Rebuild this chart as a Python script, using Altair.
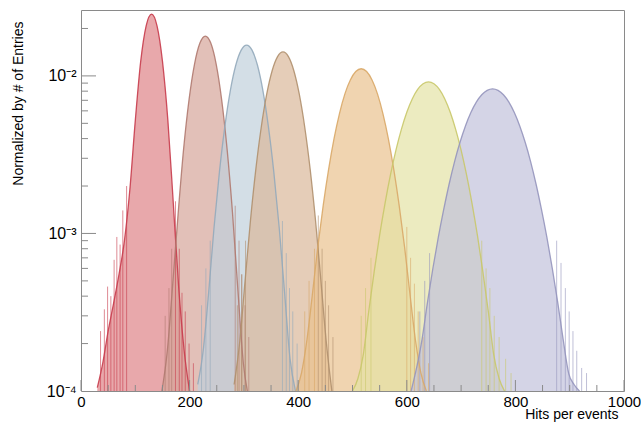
import altair as alt
import pandas as pd

STEP = 10
names = ["s1", "s2", "s3", "s4", "s5", "s6", "s7"]
starts = [30, 149, 215, 282, 396, 500, 608]

red = [1.05e-4, 1.5e-4, 2.4e-4, 3.6e-4, 5.5e-4, 9e-4, 0.0019, 0.0052, 0.0124, 0.0208,
       0.0247, 0.0208, 0.0124, 0.0052, 0.00155, 0.00045, 0.00018, 0.0001]
brown = [1.0e-4, 1.8e-4, 4.8e-4, 0.00135, 0.00344, 0.00707, 0.01185, 0.01615, 0.0179,
         0.01615, 0.01185, 0.00707, 0.00344, 0.00135, 0.000435, 0.00015, 0.00009]
blue = [1.1e-4, 1.8e-4, 0.000418, 0.00109, 0.00247, 0.0048, 0.00807, 0.01168, 0.01458,
        0.0157, 0.01458, 0.01168, 0.00807, 0.0048, 0.00247, 0.00109, 0.000418, 0.00016, 0.0001]
tan = [1.1e-4, 0.0002, 0.000493, 0.0012, 0.00256, 0.00474, 0.00765, 0.01079, 0.01326,
       0.0142, 0.01326, 0.01079, 0.00765, 0.00474, 0.00256, 0.0012, 0.000493, 0.0002, 0.0001]
orange = [1.0e-4, 1.3e-4, 0.00021, 0.000407, 0.000816, 0.0015, 0.00255, 0.0040, 0.00577,
          0.00769, 0.00942, 0.01066, 0.0111, 0.01066, 0.00942, 0.00769, 0.00577, 0.0040,
          0.00255, 0.0015, 0.000816, 0.000407, 0.00021, 1.3e-4, 1.0e-4]
yellow = [1.0e-4, 1.2e-4, 0.000171, 0.000322, 0.000575, 0.000976, 0.00156, 0.00236, 0.00338,
          0.00458, 0.00588, 0.00714, 0.0082, 0.00891, 0.00916, 0.00891, 0.0082, 0.00714,
          0.00588, 0.00458, 0.00338, 0.00236, 0.00156, 0.000976, 0.000575, 0.000322,
          0.000171, 1.2e-4, 1.0e-4]
purple = [1.0e-4, 1.4e-4, 0.000212, 0.000364, 0.000599, 0.000944, 0.00142, 0.00206, 0.00286,
          0.00379, 0.00481, 0.00585, 0.00681, 0.00759, 0.0081, 0.00828, 0.0081, 0.00759,
          0.00681, 0.00585, 0.00481, 0.00379, 0.00286, 0.00206, 0.00142, 0.000944, 0.000599,
          0.000364, 0.000212, 0.00013, 0.00011, 0.0001]

# sparse tail fluctuations (x, value) read from the low-statistics edges
red_spikes = [(36, 2.4e-4), (43, 3.3e-4), (49, 4.6e-4), (55, 4.0e-4), (61, 6.8e-4), (66, 9.5e-4),
              (72, 8.5e-4), (77, 1.4e-3), (84, 2.0e-3), (174, 1.6e-3), (181, 8e-4), (186, 4.2e-4),
              (192, 3.2e-4), (199, 2.0e-4), (207, 1.5e-4)]
brown_spikes = [(155, 3e-4), (162, 4.5e-4), (167, 8e-4), (284, 1.5e-3), (291, 9e-4), (296, 5.5e-4),
                (302, 3.5e-4), (309, 2.2e-4)]
blue_spikes = [(222, 3.5e-4), (230, 6e-4), (238, 9e-4), (371, 1.2e-3), (378, 7.5e-4), (384, 4.5e-4),
               (390, 3.2e-4), (398, 2e-4)]
tan_spikes = [(288, 3.5e-4), (296, 5.5e-4), (303, 9e-4), (437, 1.3e-3), (444, 8e-4), (450, 5e-4),
              (456, 3.5e-4), (464, 2.2e-4)]
orange_spikes = [(412, 3.2e-4), (420, 5e-4), (430, 8e-4), (600, 1.1e-3), (607, 7e-4), (614, 4.8e-4),
                 (621, 3.2e-4), (630, 2.2e-4), (640, 1.5e-4)]
yellow_spikes = [(516, 3e-4), (524, 4.5e-4), (534, 7e-4), (738, 9e-4), (746, 6e-4), (753, 4.5e-4),
                 (761, 3e-4), (770, 2.2e-4), (782, 1.6e-4), (792, 1.3e-4)]
purple_spikes = [(624, 3.2e-4), (633, 5e-4), (642, 7.5e-4), (876, 9e-4), (884, 6.5e-4), (892, 4.5e-4),
                 (899, 3.2e-4), (906, 2.4e-4), (913, 1.8e-4), (922, 1.4e-4), (931, 1.3e-4)]

fills = ["#de8387", "#d6a59a", "#c0d0db", "#dab89a", "#eac28e", "#e4e2a5", "#c2c2db"]
lines = ["#c83c4c", "#b07a70", "#93aabb", "#b0906e", "#d9a868", "#c9c86a", "#9595bd"]

x_labels = [0, 200, 400, 600, 800, 1000]
x_minor = [v for v in range(50, 1000, 50) if v % 200 != 0]
y_labels = [1e-4, 1e-3, 1e-2]
y_major = [1e-3, 1e-2]
y_minor = [2e-4, 3e-4, 4e-4, 5e-4, 6e-4, 7e-4, 8e-4, 9e-4,
           2e-3, 3e-3, 4e-3, 5e-3, 6e-3, 7e-3, 8e-3, 9e-3, 2e-2]

rows = []
for name, x0, vals in zip(names, starts, [red, brown, blue, tan, orange, yellow, purple]):
    for i, v in enumerate(vals):
        rows.append({"s": name, "x": x0 + i * STEP, "y": v})
df = pd.DataFrame(rows)

srows = []
for name, sp in zip(names, [red_spikes, brown_spikes, blue_spikes, tan_spikes,
                            orange_spikes, yellow_spikes, purple_spikes]):
    for x, v in sp:
        srows.append({"s": name, "x": x, "y": v})
sdf = pd.DataFrame(srows)

FONT = "Liberation Sans"
GRAY = "#8a8a8a"
W, H = 543, 381

xs = alt.Scale(domain=[0, 1000], nice=False, zero=False)
ys = alt.Scale(type="log", domain=[1e-4, 0.0262], nice=False)
stroke_scale = alt.Scale(domain=names, range=lines)

x_axis = alt.Axis(values=x_labels, format="d", labelFontSize=15, labelColor="black",
                  labelFont=FONT, labelFlush=False, labelPadding=3, ticks=False,
                  domain=False, grid=False, title="Hits per events", titleFont=FONT,
                  titleFontSize=14, titleFontWeight="normal", titleColor="black",
                  titleX=537, titleY=27, titleAlign="right", titleBaseline="alphabetic")
y_axis = alt.Axis(values=y_labels,
                  labelExpr="datum.value < 0.0005 ? '10⁻⁴' : (datum.value < 0.005 ? '10⁻³' : '10⁻²')",
                  labelFontSize=16, labelColor="black", labelFont=FONT, labelPadding=5,
                  ticks=False, domain=False, grid=False, title="Normalized by # of Entries",
                  titleFont=FONT, titleFontSize=14, titleFontWeight="normal",
                  titleColor="black", titleX=-63, titleY=11, titleAlign="right",
                  titleBaseline="middle", titleAngle=270)

area = alt.Chart(df).mark_area(interpolate="monotone", fillOpacity=0.7, clip=True).encode(
    x=alt.X("x:Q", scale=xs, axis=x_axis),
    y=alt.Y("y:Q", scale=ys, axis=y_axis, stack=None),
    y2=alt.datum(1e-4),
    fill=alt.Fill("s:N", scale=alt.Scale(domain=names, range=fills), legend=None),
)
spikes = alt.Chart(sdf).mark_rule(clip=True, strokeWidth=1, strokeOpacity=0.6).encode(
    x=alt.X("x:Q", scale=xs, axis=x_axis),
    y=alt.Y("y:Q", scale=ys, axis=y_axis),
    y2=alt.datum(1e-4),
    stroke=alt.Stroke("s:N", scale=stroke_scale, legend=None),
)
line = alt.Chart(df).mark_line(interpolate="monotone", clip=True, strokeWidth=1.3,
                               strokeOpacity=0.9).encode(
    x=alt.X("x:Q", scale=xs, axis=x_axis),
    y=alt.Y("y:Q", scale=ys, axis=y_axis),
    stroke=alt.Stroke("s:N", scale=stroke_scale, legend=None),
)

ymaj = alt.Chart(pd.DataFrame({"y": y_major})).mark_rule(color=GRAY, strokeWidth=1).encode(
    y=alt.Y("y:Q", scale=ys, axis=y_axis), x=alt.value(0), x2=alt.value(15))
ymin = alt.Chart(pd.DataFrame({"y": y_minor})).mark_rule(color=GRAY, strokeWidth=1).encode(
    y=alt.Y("y:Q", scale=ys, axis=y_axis), x=alt.value(0), x2=alt.value(7))
xmaj = alt.Chart(pd.DataFrame({"x": x_labels})).mark_rule(color=GRAY, strokeWidth=1).encode(
    x=alt.X("x:Q", scale=xs, axis=x_axis), y=alt.value(H), y2=alt.value(H - 11))
xmin = alt.Chart(pd.DataFrame({"x": x_minor})).mark_rule(color=GRAY, strokeWidth=1).encode(
    x=alt.X("x:Q", scale=xs, axis=x_axis), y=alt.value(H), y2=alt.value(H - 6))

chart = alt.layer(area, spikes, line, ymaj, ymin, xmaj, xmin).properties(
    width=W, height=H,
    autosize=alt.AutoSizeParams(type="none"),
    padding={"left": 81, "top": 10, "right": 17, "bottom": 31},
    background="white",
).configure_view(stroke=GRAY, strokeWidth=1)

chart.save("out.html", embed_options={"renderer": "svg", "actions": False})
